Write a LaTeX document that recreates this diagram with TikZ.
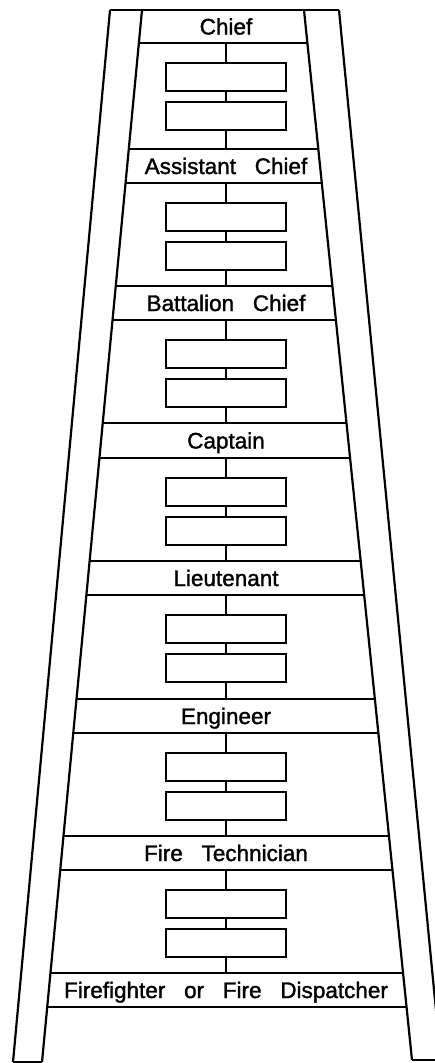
\documentclass[tikz,border=0pt]{standalone}
\usepackage{fontspec}
\setmainfont{Liberation Sans}[WordSpace=3.0,FakeBold=1.5]
\begin{document}
\begin{tikzpicture}[x=1pt,y=-1pt,line width=2.2pt,
  rungtext/.style={inner sep=0pt,minimum width=100pt,text height=16pt,text depth=0pt,
    font=\fontsize{22.5}{27}\selectfont},
  slot/.style={draw,rectangle,inner sep=0pt,minimum width=120pt,minimum height=28pt}]
\useasboundingbox (0,0) rectangle (435,1063);
\clip (0,0) rectangle (435,1063);
% rails
\draw (110,10) -- (13,1062);
\draw (142,10) -- (42,1062);
\draw (304,10) -- (412,1060);
\draw (339,10) -- (441,1062);
% top and bottom ends
\draw (110,10) -- (339,10);
\draw (13,1062) -- (42,1062);
\draw (412,1060) -- (440,1060);
% rungs
\foreach \t/\b/\lab/\n in {10/43/Chief/0, 149/183/Assistant Chief/1, 286/320/Battalion Chief/2,
  423/458/Captain/3, 561/595/Lieutenant/4, 699/733/Engineer/5, 836/870/Fire Technician/6,
  973/1007/Firefighter or Fire Dispatcher/7} {
  \pgfmathsetmacro\xlt{142-0.0950570*(\t-10)}
  \pgfmathsetmacro\xrt{304+0.1028571*(\t-10)}
  \pgfmathsetmacro\xlb{142-0.0950570*(\b-10)}
  \pgfmathsetmacro\xrb{304+0.1028571*(\b-10)}
  \pgfmathsetmacro\hh{\b-\t}
  \pgfmathsetmacro\ym{(\t+\b)/2}
  \draw (\xlt,\t) -- (\xrt,\t);
  \draw (\xlb,\b) -- (\xrb,\b);
  \node[rungtext,minimum height=\hh pt] (r\n) at (226,\ym) {\lab};
}
% boxes between rungs
\foreach \i/\b in {0/43,1/183,2/320,3/458,4/595,5/733,6/870} {
  \pgfmathtruncatemacro\j{\i+1}
  \node[slot] (ba\i) at (226,\b+34) {};
  \node[slot] (bb\i) at (226,\b+73) {};
  \draw (r\i.south) -- (ba\i.north);
  \draw (ba\i.south) -- (bb\i.north);
  \draw (bb\i.south) -- (r\j.north);
}
\end{tikzpicture}
\end{document}
